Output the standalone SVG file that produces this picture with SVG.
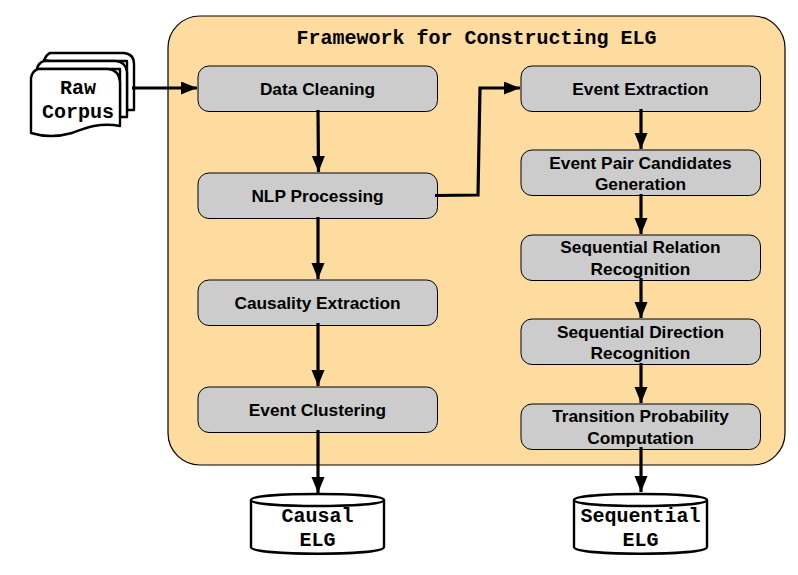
<svg xmlns="http://www.w3.org/2000/svg" width="798" height="575" viewBox="0 0 798 575">
<defs>
<marker id="arrow" markerUnits="userSpaceOnUse" markerWidth="17" markerHeight="14" refX="16" refY="6.5" orient="auto"><path d="M0 0L16 6.500L0 13Z" fill="#000"/></marker>
</defs>
<style>
.frame{fill:#fedb9f;stroke:#000;stroke-width:1.2}
.box{fill:#cccccc;stroke:#000;stroke-width:1}
.doc,.db{fill:#fff;stroke:#000;stroke-width:2.4;stroke-linejoin:round}
.sans{font-family:"Liberation Sans",Arial,sans-serif;font-weight:bold;font-size:17.300px;text-anchor:middle;fill:#000}
.mono{font-family:"Liberation Mono","Courier New",monospace;font-weight:bold;font-size:20px;text-anchor:middle;fill:#000}
.conn{fill:none;stroke:#000;stroke-width:3.200;marker-end:url(#arrow)}
</style>
<g id="framework"><rect class="frame" x="168" y="16" width="617" height="449" rx="32"/>
<text class="mono" x="476.500" y="44">Framework for Constructing ELG</text></g>
<g id="raw-corpus">
<path class="doc" d="M50 53H124Q134 54 134 64V110H127V61H50L44 60Q47 54 50 53Z"/>
<path class="doc" d="M44 61H116Q126 62 127 72V117H120V69H37Q38 63 44 61Z"/>
<path class="doc" d="M38 69H108Q119 70 120 82V126C100 122 85 128 72 133C58 137 44 137 31 133V78Q32 71 38 69Z"/>
<text class="mono" x="78" y="94">Raw</text><text class="mono" x="78" y="118">Corpus</text></g>
<g id="data-cleaning"><rect class="box" x="198" y="66" width="239.500" height="45.500" rx="11"/><text class="sans" x="317.500" y="95">Data Cleaning</text></g>
<g id="nlp-processing"><rect class="box" x="198" y="173" width="239.500" height="45.500" rx="11"/><text class="sans" x="317.500" y="202">NLP Processing</text></g>
<g id="causality-extraction"><rect class="box" x="198" y="280" width="239.500" height="45.500" rx="11"/><text class="sans" x="317.500" y="309">Causality Extraction</text></g>
<g id="event-clustering"><rect class="box" x="198" y="387" width="239.500" height="45.500" rx="11"/><text class="sans" x="317.500" y="416">Event Clustering</text></g>
<g id="event-extraction"><rect class="box" x="521" y="66" width="239.500" height="45.500" rx="11"/><text class="sans" x="640.500" y="95">Event Extraction</text></g>
<g id="event-pair"><rect class="box" x="521" y="150" width="239.500" height="45.500" rx="11"/><text class="sans" x="640.500" y="168.500">Event Pair Candidates</text><text class="sans" x="640.500" y="190">Generation</text></g>
<g id="sequential-relation"><rect class="box" x="521" y="235" width="239.500" height="45.500" rx="11"/><text class="sans" x="640.500" y="253">Sequential Relation</text><text class="sans" x="640.500" y="275">Recognition</text></g>
<g id="sequential-direction"><rect class="box" x="521" y="319" width="239.500" height="45.500" rx="11"/><text class="sans" x="640.500" y="337.500">Sequential Direction</text><text class="sans" x="640.500" y="359">Recognition</text></g>
<g id="transition-probability"><rect class="box" x="521" y="404" width="239.500" height="45.500" rx="11"/><text class="sans" x="640.500" y="422">Transition Probability</text><text class="sans" x="640.500" y="444">Computation</text></g>
<g id="causal-elg"><path class="db" d="M251 500C251 492 384 492 384 500V547C384 556 251 556 251 547Z"/><path class="db" d="M251 500C251 508 384 508 384 500"/><text class="mono" x="317.500" y="522">Causal</text><text class="mono" x="317.500" y="546">ELG</text></g>
<g id="sequential-elg"><path class="db" d="M574 500C574 492 707 492 707 500V547C707 556 574 556 574 547Z"/><path class="db" d="M574 500C574 508 707 508 707 500"/><text class="mono" x="640.500" y="522">Sequential</text><text class="mono" x="640.500" y="546">ELG</text></g>
<g id="connectors">
<path class="conn" d="M132 88H197"/>
<path class="conn" d="M318 110L318.500 172"/>
<path class="conn" d="M318 217V279"/>
<path class="conn" d="M318 323V386"/>
<path class="conn" d="M318 430V493"/>
<path class="conn" d="M435 195.500L478 195L480 88L520 88"/>
<path class="conn" d="M641 109V149"/>
<path class="conn" d="M641 194V234"/>
<path class="conn" d="M641 278V318"/>
<path class="conn" d="M641 363V403"/>
<path class="conn" d="M641 447V492"/>
</g>
</svg>
